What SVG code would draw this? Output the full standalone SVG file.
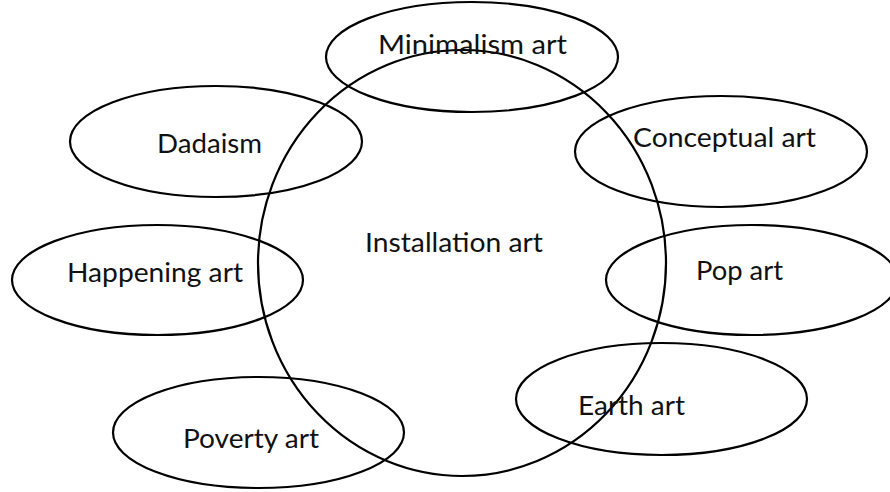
<svg xmlns="http://www.w3.org/2000/svg" width="890" height="492" viewBox="0 0 890 492">
<style>
ellipse{fill:none;stroke:#000;stroke-width:2.2}
text{font-family:Lato,"Open Sans","Liberation Sans",sans-serif;font-size:27.5px;fill:#111}
</style>
<rect width="890" height="492" fill="#fff"/>
<g id="installation-art">
<ellipse cx="462" cy="263" rx="204" ry="213"/>
<text x="365" y="252" textLength="178" lengthAdjust="spacingAndGlyphs">Installation art</text>
</g>
<g id="minimalism-art">
<ellipse cx="472" cy="57" rx="146" ry="55"/>
<text x="378" y="54" textLength="189" lengthAdjust="spacingAndGlyphs">Minimalism art</text>
</g>
<g id="dadaism">
<ellipse cx="216" cy="141.5" rx="146" ry="55.5"/>
<text x="157" y="153" textLength="105" lengthAdjust="spacingAndGlyphs">Dadaism</text>
</g>
<g id="conceptual-art">
<ellipse cx="721" cy="151.5" rx="146" ry="55.5"/>
<text x="633" y="147" textLength="183" lengthAdjust="spacingAndGlyphs">Conceptual art</text>
</g>
<g id="happening-art">
<ellipse cx="157.5" cy="280" rx="145.5" ry="55"/>
<text x="67" y="282" textLength="176" lengthAdjust="spacingAndGlyphs">Happening art</text>
</g>
<g id="pop-art">
<ellipse cx="752" cy="280" rx="146" ry="55"/>
<text x="696" y="280" textLength="87" lengthAdjust="spacingAndGlyphs">Pop art</text>
</g>
<g id="earth-art">
<ellipse cx="661.5" cy="399" rx="145.5" ry="56"/>
<text x="578" y="415" textLength="107" lengthAdjust="spacingAndGlyphs">Earth art</text>
</g>
<g id="poverty-art">
<ellipse cx="258.5" cy="432.5" rx="145.5" ry="55.5"/>
<text x="183" y="448" textLength="136" lengthAdjust="spacingAndGlyphs">Poverty art</text>
</g>
<g id="connectors"></g>
</svg>
